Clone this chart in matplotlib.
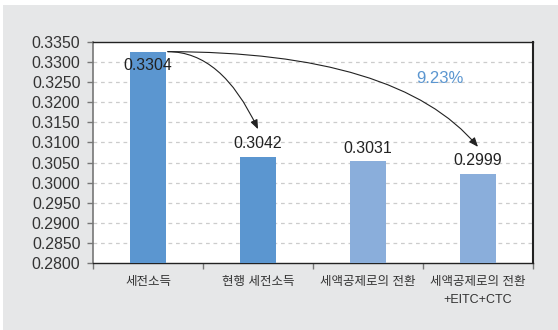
import matplotlib
matplotlib.use("Agg")
import matplotlib.pyplot as plt
from matplotlib.patches import Rectangle
import numpy as np

categories = ["세전소득", "현행 세전소득", "세액공제로의 전환", "세액공제로의 전환\n+EITC+CTC"]
bar_heights = [0.3326, 0.3065, 0.3054, 0.3022]
value_labels = ["0.3304", "0.3042", "0.3031", "0.2999"]
change_label = "9.23%"
y_ticks = [0.2800, 0.2850, 0.2900, 0.2950, 0.3000, 0.3050, 0.3100,
           0.3150, 0.3200, 0.3250, 0.3300, 0.3350]

dark_blue = "#5b96d0"
light_blue = "#8aaedb"
bar_colors = [dark_blue, dark_blue, light_blue, light_blue]

plt.rcParams['font.family'] = ['Liberation Sans', 'Noto Sans CJK KR', 'DejaVu Sans']

fig = plt.figure(figsize=(5.58, 3.30), dpi=100)
fig.patch.set_facecolor("white")
fig.patches.append(Rectangle((3/558, 0), 1, 1 - 5/330, transform=fig.transFigure,
                             facecolor="#e6e7e8", edgecolor="none", zorder=-10))

ax = fig.add_axes([93/558, 67/330, 440/558, 221/330])
ax.set_zorder(1)
ax.set_facecolor("white")

x = np.arange(len(categories))
bw = 0.32
ax.bar(x, bar_heights, width=bw, color=bar_colors, zorder=3)

ax.set_xlim(-0.5, len(categories) - 0.5)
ax.set_ylim(y_ticks[0], y_ticks[-1])
ax.set_yticks(y_ticks)
ax.set_yticklabels([f"{v:.4f}" for v in y_ticks], fontsize=11.4, color="#333333")
ax.tick_params(axis="y", length=4, width=1, color="#777777", pad=5)

ax.set_xticks(x)
ax.set_xticklabels(categories, fontsize=9, color="#333333",
                   family=['Liberation Sans', 'Noto Sans CJK KR', 'DejaVu Sans'],
                   linespacing=1.65)
ax.tick_params(axis="x", which="major", length=0, pad=9.5)
ax.set_xticks(np.arange(len(categories) + 1) - 0.5, minor=True)
ax.tick_params(axis="x", which="minor", length=4, width=1, color="#777777")

for yv in y_ticks[1:-1]:
    ax.axhline(yv, color="#cccccc", lw=0.9, ls=(0, (3, 3)), zorder=1)

for s in ["top", "bottom", "right"]:
    ax.spines[s].set_color("#222222")
    ax.spines[s].set_linewidth(1.0)
ax.spines["left"].set_color("#777777")
ax.spines["left"].set_linewidth(1.2)
ax.spines["right"].set_linewidth(1.5)

# value labels
for i, (h, lab) in enumerate(zip(bar_heights, value_labels)):
    if i == 0:
        ax.annotate(lab, (x[i], h), xytext=(0, -10), textcoords="offset points",
                    ha="center", va="center", fontsize=11.4, color="#222222", zorder=5)
    else:
        ax.annotate(lab, (x[i], h), xytext=(0, 9.3), textcoords="offset points",
                    ha="center", va="center", fontsize=11.4, color="#222222", zorder=5)

# arrows
start = (x[0] + bw / 2 + 0.02, bar_heights[0])
ax.annotate("", xy=(x[1], bar_heights[1] + 0.0068), xytext=start,
            arrowprops=dict(arrowstyle="-|>,head_length=0.55,head_width=0.22",
                            color="#222222", lw=0.8, shrinkA=0, shrinkB=0,
                            connectionstyle="angle3,angleA=0,angleB=115"), zorder=6)
ax.annotate("", xy=(x[3], bar_heights[3] + 0.0067), xytext=start,
            arrowprops=dict(arrowstyle="-|>,head_length=0.55,head_width=0.22",
                            color="#222222", lw=0.8, shrinkA=0, shrinkB=0,
                            connectionstyle="angle3,angleA=0,angleB=130"), zorder=6)

ax.text(2.65, 0.3260, change_label, ha="center", va="center", fontsize=12,
        color="#5b96d0", zorder=6)

fig.savefig("out.png", dpi=100, facecolor=fig.get_facecolor())
